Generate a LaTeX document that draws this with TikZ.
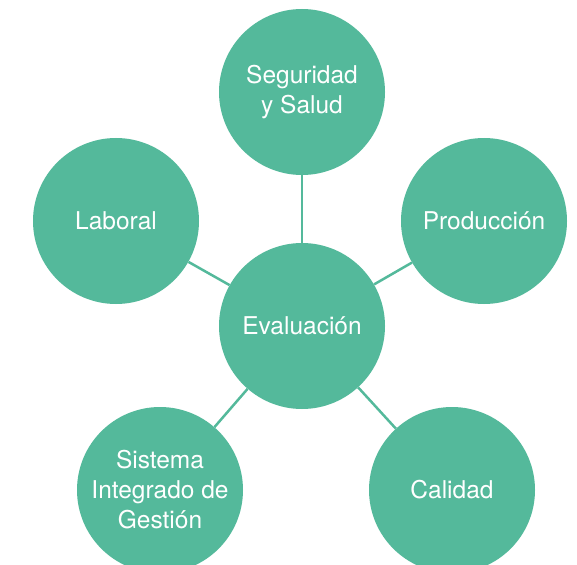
\documentclass[tikz,border=0pt]{standalone}
\usepackage{fontspec}
\setmainfont{TeX Gyre Heros}
\definecolor{verde}{RGB}{84,185,155}
\begin{document}
\begin{tikzpicture}[x=1pt,y=-1pt]
	\newcommand{\mycolor}{verde}
	\newcommand{\mytextcolor}{white}

		\tikzset{tema/.style={circle,fill=\mycolor,text=\mytextcolor,minimum size=166pt,inner sep=0pt,align=center,font=\fontsize{24.5}{30}\selectfont}}
		\useasboundingbox (0,0) rectangle (577,564);
		\clip (0,0) rectangle (577,564);

		\node[tema] (evaluacion) at (302,326) {Evaluación};
		\node[tema] (seguridad) at (302,92) {Seguridad\\y Salud};
		\node[tema] (laboral) at (116,221) {Laboral};
		\node[tema] (produccion) at (484,221) {Producción};
		\node[tema] (sistema) at (160,490) {Sistema\\Integrado de\\Gestión};
		\node[tema] (calidad) at (452,490) {Calidad};

		\draw[\mycolor,line width=2.5pt] (evaluacion) -- (seguridad);
		\draw[\mycolor,line width=2.5pt] (evaluacion) -- (laboral);
		\draw[\mycolor,line width=2.5pt] (evaluacion) -- (produccion);
		\draw[\mycolor,line width=2.5pt] (evaluacion) -- (sistema);
		\draw[\mycolor,line width=2.5pt] (evaluacion) -- (calidad);
	\end{tikzpicture}
\end{document}
